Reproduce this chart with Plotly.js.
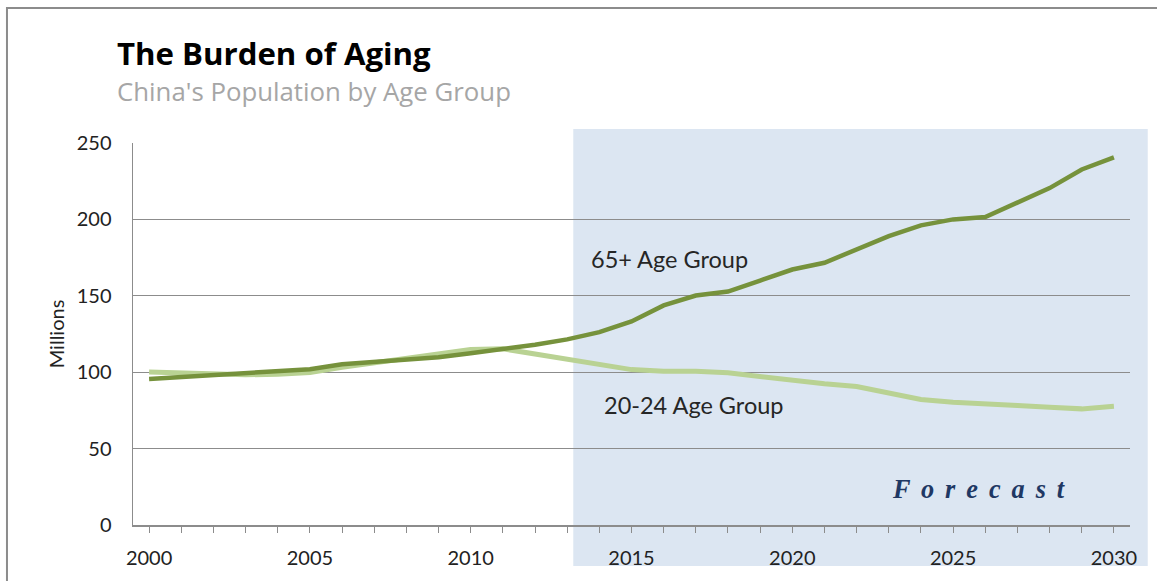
<!DOCTYPE html>
<html>
<head>
<meta charset="utf-8">
<script src="https://cdn.plot.ly/plotly-3.0.1.min.js"></script>
<style>html,body{margin:0;padding:0;background:#fff;}#chart{width:1157px;height:581px;}</style>
</head>
<body>
<div id="chart"></div>
<script>
const years = [2000,2001,2002,2003,2004,2005,2006,2007,2008,2009,2010,2011,2012,2013,2014,2015,2016,2017,2018,2019,2020,2021,2022,2023,2024,2025,2026,2027,2028,2029,2030];
const age65plus = [95.6,96.9,98.5,100.1,100.8,102.0,105.2,106.7,108.2,109.8,112.4,114.9,118.0,121.5,126.2,133.2,143.7,150.2,152.8,160.0,167.2,171.6,180.3,189.1,196.1,200.0,201.5,211.3,220.5,232.7,240.6];
const age20to24 = [100.1,99.5,99.4,98.3,98.7,99.8,103.3,106.1,108.9,112.0,114.8,115.3,111.8,109.0,105.5,101.7,100.7,100.7,99.6,97.2,94.5,92.4,90.6,86.5,82.1,80.4,79.7,78.2,77.1,76.0,77.7];
const seriesNames = ["65+ Age Group", "20-24 Age Group"];
const titleText = "The Burden of Aging";
const subtitleText = "China's Population by Age Group";
const yTitle = "Millions";
const forecastText = "F \u2006o \u2006r \u2006e \u2006c \u2006a \u2006s \u2006t";

const FONT = "Lato, 'Open Sans', sans-serif";
const TFONT = "'Open Sans', Lato, sans-serif";
const traces = [
  {x: years, y: age20to24, type: 'scatter', mode: 'lines', name: seriesNames[1],
   line: {color: '#B9D293', width: 5}, hoverinfo: 'skip'},
  {x: years, y: age65plus, type: 'scatter', mode: 'lines', name: seriesNames[0],
   line: {color: '#76923C', width: 4.5}, hoverinfo: 'skip'}
];

const layout = {
  width: 1157, height: 581,
  margin: {l: 133, r: 27, t: 143, b: 56, pad: 0},
  paper_bgcolor: '#ffffff',
  plot_bgcolor: 'rgba(0,0,0,0)',
  showlegend: false,
  font: {family: FONT, color: '#222222', size: 20},
  xaxis: {
    range: [1999.5, 2030.5], tick0: 2000, dtick: 5, tickmode: 'linear',
    showgrid: false, zeroline: false,
    showline: true, linecolor: '#8C8C8C', linewidth: 1.5,
    ticks: 'outside', ticklen: 6, tickcolor: '#8C8C8C', tickwidth: 1,
    minor: {dtick: 1, tick0: 2000, ticks: 'outside', ticklen: 6, tickcolor: '#8C8C8C', tickwidth: 1, showgrid: false},
    tickfont: {family: FONT, size: 20, color: '#222222'},
    ticklabelstandoff: 8,
    fixedrange: true
  },
  yaxis: {
    range: [0, 250], dtick: 50, tick0: 0,
    showgrid: true, gridcolor: '#8C8C8C', gridwidth: 1.2,
    zeroline: false, showline: true, linecolor: '#8C8C8C', linewidth: 1.5,
    ticks: '', tickfont: {family: FONT, size: 20, color: '#222222'},
    ticklabelstandoff: 16,
    title: {text: yTitle, font: {family: FONT, size: 20, color: '#222222'}, standoff: 6},
    fixedrange: true
  },
  shapes: [
    {type: 'rect', xref: 'paper', yref: 'paper', x0: 0.4416, x1: 1.0178, y0: -0.1073, y1: 1.0366,
     fillcolor: '#DCE6F2', line: {width: 0}, layer: 'below'},
    {type: 'rect', xref: 'paper', yref: 'paper', x0: -0.1264, x1: 1.06, y0: -0.2, y1: 1.3534,
     fillcolor: 'rgba(0,0,0,0)', line: {color: '#8C8C8C', width: 2}, layer: 'above'}
  ],
  annotations: [
    {text: '<b>' + titleText + '</b>', xref: 'paper', yref: 'paper', x: -0.0185, y: 1.2356,
     xanchor: 'left', yanchor: 'middle', showarrow: false,
     font: {family: TFONT, size: 31.2, color: '#000000'}},
    {text: subtitleText, xref: 'paper', yref: 'paper', x: -0.0185, y: 1.135,
     xanchor: 'left', yanchor: 'middle', showarrow: false,
     font: {family: TFONT, size: 25.8, color: '#A6A6A6'}},
    {text: seriesNames[0], xref: 'paper', yref: 'paper', x: (589-133)/997, y: (525-259)/382,
     xanchor: 'left', yanchor: 'middle', showarrow: false,
     font: {family: FONT, size: 23.5, color: '#262626'}},
    {text: seriesNames[1], xref: 'paper', yref: 'paper', x: (602-133)/997, y: (525-405)/382,
     xanchor: 'left', yanchor: 'middle', showarrow: false,
     font: {family: FONT, size: 23.5, color: '#262626'}},
    {text: '<b><i>' + forecastText + '</i></b>', xref: 'paper', yref: 'paper', x: (890-133)/997, y: (525-489)/382,
     xanchor: 'left', yanchor: 'middle', showarrow: false,
     font: {family: "'Liberation Serif', 'Times New Roman', serif", size: 26.3, color: '#1F3864'}}
  ]
};

Plotly.newPlot('chart', traces, layout, {staticPlot: true, displayModeBar: false});
</script>
</body>
</html>
